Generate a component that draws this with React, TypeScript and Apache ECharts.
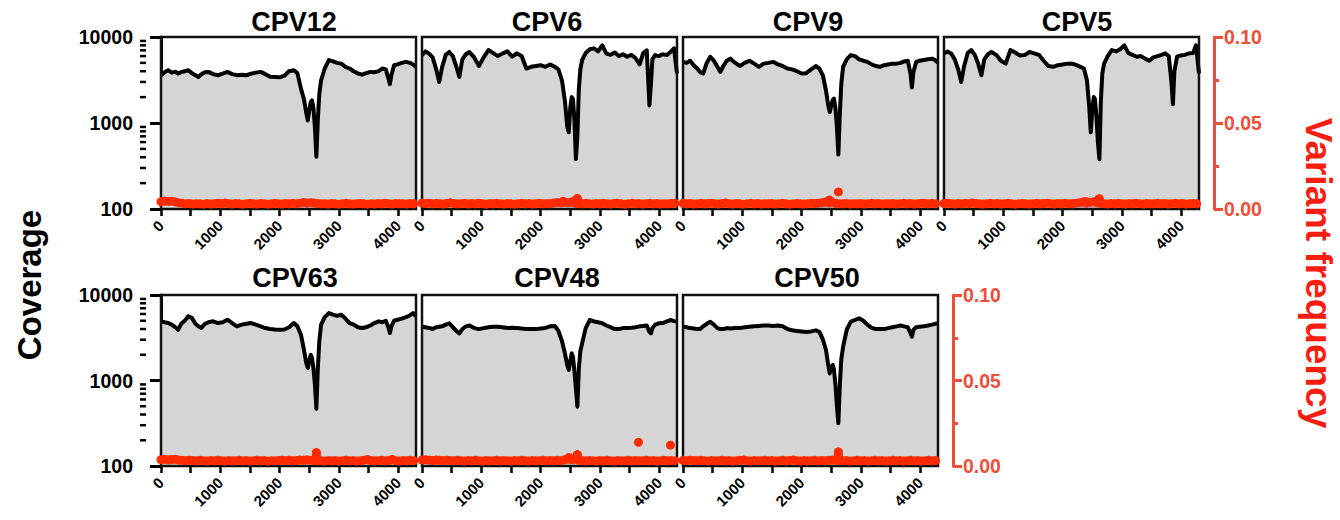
import React, { useEffect, useRef } from "react";
import * as echarts from "echarts";

const POS = [0, 60, 120, 180, 240, 290, 340, 400, 460, 520, 580, 630, 680, 740, 800, 880, 960, 1040, 1120, 1200, 1280, 1360, 1440, 1520, 1600, 1680, 1760, 1840, 1920, 2000, 2080, 2160, 2240, 2300, 2360, 2410, 2450, 2475, 2500, 2525, 2545, 2570, 2595, 2620, 2645, 2670, 2700, 2760, 2830, 2900, 2970, 3040, 3110, 3180, 3250, 3320, 3390, 3460, 3530, 3600, 3670, 3730, 3790, 3835, 3860, 3885, 3930, 3990, 4060, 4130, 4200, 4250, 4300];

const CPV12_COV = [3590, 3900, 4110, 3850, 3950, 3760, 3900, 4000, 4110, 3800, 3600, 3430, 3700, 3900, 3930, 3700, 3590, 3750, 3930, 3700, 3600, 3650, 3590, 3750, 3850, 3930, 3700, 3450, 3430, 3400, 3550, 4000, 4110, 3800, 2510, 1900, 1300, 1070, 1400, 1750, 1830, 1500, 900, 406, 1100, 2200, 3140, 4300, 5380, 5200, 5000, 4900, 4500, 4300, 4000, 3760, 3650, 3800, 3930, 3900, 4000, 4300, 4200, 3300, 2830, 3600, 4700, 4800, 5000, 5140, 5000, 4800, 4500];
const CPV6_COV = [6160, 6800, 6400, 5800, 4200, 3000, 4500, 6200, 6700, 6000, 4500, 3430, 5500, 6300, 6700, 5800, 4600, 5800, 7050, 6500, 6000, 6450, 6800, 5900, 6450, 6000, 4300, 4500, 4600, 4700, 4500, 4800, 4500, 4200, 3140, 1800, 900, 780, 1500, 2000, 1900, 1100, 380, 700, 2500, 4200, 5400, 6500, 7200, 7380, 6800, 8000, 6400, 6200, 6600, 6000, 6300, 5900, 6200, 5700, 4800, 6500, 7000, 1600, 2800, 5500, 6160, 6000, 6300, 6160, 6800, 7400, 3760];
const CPV9_COV = [5140, 5000, 5300, 4700, 4300, 3900, 3760, 5000, 5890, 5300, 4500, 3930, 4600, 5300, 5600, 5000, 4600, 5000, 5300, 4900, 4500, 4900, 5000, 5140, 4800, 4600, 4300, 4200, 4000, 3760, 3800, 4200, 4600, 4300, 3550, 2400, 1600, 1340, 1600, 1850, 1920, 1500, 900, 430, 1300, 2900, 4500, 5500, 6160, 6000, 5500, 5300, 5140, 4800, 4600, 4500, 4700, 4800, 4900, 4900, 5000, 5200, 5300, 3800, 2580, 3900, 5100, 5300, 5400, 5500, 5600, 5400, 5000];
const CPV5_COV = [6450, 6800, 6450, 5500, 4200, 3000, 4600, 6500, 7050, 6200, 4800, 3590, 5500, 6300, 6700, 6200, 5300, 4900, 7050, 6600, 6100, 6160, 6700, 6450, 6200, 5300, 4600, 4500, 4700, 4800, 4900, 4900, 4700, 4500, 4300, 3140, 1500, 780, 1400, 2000, 1900, 1200, 600, 380, 1800, 3800, 4900, 6000, 7050, 6800, 7200, 8000, 6500, 6200, 5900, 6000, 5600, 5300, 5800, 6000, 6200, 6450, 6000, 3000, 1650, 4000, 5900, 6100, 6200, 6450, 6500, 8000, 3760];
const CPV63_COV = [4920, 4800, 4700, 4500, 4200, 3930, 4600, 5000, 5630, 5400, 4600, 4300, 4110, 4600, 4800, 4920, 4700, 4800, 5140, 4700, 4300, 4500, 4600, 4700, 4500, 4300, 4110, 4000, 3950, 3930, 3950, 4200, 4700, 4300, 3430, 2300, 1600, 1400, 1700, 2000, 1850, 1400, 900, 468, 1400, 2900, 4500, 5500, 6150, 5900, 5700, 5880, 5300, 4700, 4500, 4200, 4110, 4200, 4400, 4700, 4920, 4800, 5000, 4200, 3590, 4300, 5000, 5140, 5300, 5500, 5800, 6150, 5630];
const CPV48_COV = [4260, 4200, 4120, 4000, 4200, 4260, 4300, 4500, 4670, 4200, 3800, 3560, 4000, 4300, 4400, 4100, 3990, 4100, 4200, 4260, 4260, 4200, 4120, 4150, 4120, 4050, 4000, 3990, 3990, 4050, 4120, 4300, 4350, 3800, 2900, 2080, 1500, 1330, 1700, 2080, 1900, 1300, 800, 494, 1400, 2200, 2720, 4100, 5100, 4900, 4800, 4670, 4400, 4200, 3990, 4000, 4100, 4120, 4150, 4200, 4300, 4350, 4400, 3700, 3560, 4100, 4500, 4670, 4700, 4900, 5100, 4950, 4900];
const CPV50_COV = [4260, 4200, 4100, 4050, 3990, 4000, 4300, 4600, 4870, 4500, 4100, 3990, 4000, 4100, 4050, 4120, 4100, 4200, 4260, 4300, 4350, 4400, 4400, 4350, 4400, 4300, 4000, 3860, 3800, 3750, 3700, 3750, 3860, 3700, 3000, 2300, 1500, 1210, 1450, 1520, 1350, 900, 500, 316, 900, 1800, 2480, 3900, 4870, 5100, 5340, 5000, 4500, 4120, 4000, 3990, 3990, 4100, 4200, 4300, 4400, 4300, 4200, 3600, 3250, 3900, 4200, 4260, 4300, 4400, 4500, 4600, 4660];

// Positions (nt) at which variant frequencies were read
const VPOS = [0, 60, 120, 180, 240, 300, 360, 420, 480, 540, 600, 660, 720, 780, 840, 900, 960, 1020, 1080, 1140, 1200, 1260, 1320, 1380, 1440, 1500, 1560, 1620, 1680, 1740, 1800, 1860, 1920, 1980, 2040, 2100, 2160, 2220, 2280, 2340, 2400, 2460, 2520, 2580, 2640, 2700, 2760, 2820, 2880, 2940, 3000, 3060, 3120, 3180, 3240, 3300, 3360, 3420, 3480, 3540, 3600, 3660, 3720, 3780, 3840, 3900, 3960, 4020, 4080, 4140, 4200, 4260];

const CPV12_VF = [
  0.0042, 0.0046, 0.0044, 0.0045, 0.0041, 0.0037, 0.0033, 0.0031, 0.0032, 0.0029, 0.0031, 0.0030,
  0.0028, 0.0032, 0.0029, 0.0031, 0.0034, 0.0030, 0.0035, 0.0031, 0.0029, 0.0032, 0.0030, 0.0028,
  0.0031, 0.0033, 0.0030, 0.0029, 0.0032, 0.0031, 0.0028, 0.0030, 0.0033, 0.0031, 0.0029, 0.0032,
  0.0030, 0.0033, 0.0031, 0.0034, 0.0038, 0.0035, 0.0037, 0.0035, 0.0032, 0.0030, 0.0031, 0.0029,
  0.0032, 0.0030, 0.0028, 0.0031, 0.0033, 0.0030, 0.0029, 0.0031, 0.0032, 0.0030, 0.0028, 0.0031,
  0.0029, 0.0032, 0.0030, 0.0034, 0.0031, 0.0029, 0.0032, 0.0030, 0.0031, 0.0029, 0.0032, 0.0030];
const CPV6_VF = [
  0.0035, 0.0032, 0.0034, 0.0030, 0.0033, 0.0031, 0.0029, 0.0033, 0.0036, 0.0032, 0.0030, 0.0031,
  0.0033, 0.0029, 0.0032, 0.0030, 0.0034, 0.0031, 0.0028, 0.0032, 0.0030, 0.0033, 0.0031, 0.0029,
  0.0032, 0.0030, 0.0028, 0.0031, 0.0033, 0.0030, 0.0032, 0.0029, 0.0031, 0.0034, 0.0030, 0.0032,
  0.0031, 0.0035, 0.0038, 0.0036, 0.0039, 0.0037, 0.0041, 0.0034, 0.0032, 0.0030, 0.0033, 0.0031,
  0.0029, 0.0032, 0.0030, 0.0033, 0.0031, 0.0029, 0.0032, 0.0034, 0.0030, 0.0028, 0.0031, 0.0033,
  0.0030, 0.0032, 0.0029, 0.0031, 0.0033, 0.0030, 0.0032, 0.0029, 0.0031, 0.0030, 0.0032, 0.0033];
const CPV9_VF = [
  0.0033, 0.0030, 0.0032, 0.0029, 0.0031, 0.0033, 0.0030, 0.0032, 0.0034, 0.0031, 0.0029, 0.0032,
  0.0035, 0.0031, 0.0029, 0.0032, 0.0030, 0.0028, 0.0031, 0.0033, 0.0030, 0.0032, 0.0029, 0.0031,
  0.0030, 0.0032, 0.0029, 0.0031, 0.0033, 0.0030, 0.0028, 0.0031, 0.0032, 0.0030, 0.0029, 0.0031,
  0.0033, 0.0032, 0.0034, 0.0037, 0.0040, 0.0036, 0.0038, 0.0033, 0.0031, 0.0030, 0.0032, 0.0029,
  0.0031, 0.0030, 0.0032, 0.0029, 0.0031, 0.0033, 0.0030, 0.0032, 0.0029, 0.0031, 0.0030, 0.0032,
  0.0029, 0.0031, 0.0033, 0.0030, 0.0032, 0.0029, 0.0031, 0.0034, 0.0032, 0.0030, 0.0033, 0.0031];
const CPV5_VF = [
  0.0032, 0.0034, 0.0031, 0.0029, 0.0032, 0.0030, 0.0033, 0.0031, 0.0035, 0.0032, 0.0030, 0.0029,
  0.0031, 0.0033, 0.0030, 0.0032, 0.0029, 0.0031, 0.0033, 0.0030, 0.0028, 0.0031, 0.0032, 0.0030,
  0.0029, 0.0031, 0.0033, 0.0030, 0.0032, 0.0034, 0.0031, 0.0029, 0.0032, 0.0030, 0.0033, 0.0031,
  0.0030, 0.0034, 0.0037, 0.0040, 0.0035, 0.0038, 0.0042, 0.0036, 0.0033, 0.0031, 0.0029, 0.0032,
  0.0030, 0.0033, 0.0031, 0.0029, 0.0032, 0.0030, 0.0034, 0.0031, 0.0029, 0.0032, 0.0030, 0.0031,
  0.0033, 0.0030, 0.0032, 0.0029, 0.0031, 0.0033, 0.0030, 0.0032, 0.0029, 0.0031, 0.0032, 0.0030];
const CPV63_VF = [
  0.0037, 0.0039, 0.0036, 0.0038, 0.0040, 0.0035, 0.0033, 0.0031, 0.0034, 0.0032, 0.0030, 0.0033,
  0.0031, 0.0029, 0.0032, 0.0030, 0.0033, 0.0031, 0.0029, 0.0032, 0.0030, 0.0031, 0.0033, 0.0030,
  0.0032, 0.0029, 0.0031, 0.0033, 0.0030, 0.0032, 0.0029, 0.0031, 0.0030, 0.0032, 0.0034, 0.0031,
  0.0033, 0.0030, 0.0032, 0.0035, 0.0033, 0.0036, 0.0034, 0.0032, 0.0030, 0.0031, 0.0029, 0.0032,
  0.0030, 0.0032, 0.0029, 0.0031, 0.0033, 0.0030, 0.0032, 0.0029, 0.0031, 0.0034, 0.0038, 0.0032,
  0.0030, 0.0031, 0.0033, 0.0030, 0.0032, 0.0038, 0.0031, 0.0029, 0.0032, 0.0030, 0.0033, 0.0031];
const CPV48_VF = [
  0.0035, 0.0037, 0.0034, 0.0032, 0.0035, 0.0033, 0.0031, 0.0034, 0.0032, 0.0030, 0.0033, 0.0031,
  0.0029, 0.0032, 0.0030, 0.0033, 0.0031, 0.0029, 0.0032, 0.0030, 0.0031, 0.0033, 0.0030, 0.0032,
  0.0031, 0.0029, 0.0032, 0.0030, 0.0033, 0.0031, 0.0029, 0.0032, 0.0030, 0.0031, 0.0033, 0.0030,
  0.0032, 0.0030, 0.0033, 0.0031, 0.0036, 0.0041, 0.0037, 0.0039, 0.0034, 0.0031, 0.0030, 0.0032,
  0.0031, 0.0029, 0.0032, 0.0030, 0.0033, 0.0031, 0.0029, 0.0032, 0.0030, 0.0031, 0.0033, 0.0030,
  0.0032, 0.0030, 0.0031, 0.0033, 0.0030, 0.0032, 0.0029, 0.0031, 0.0033, 0.0030, 0.0032, 0.0031];
const CPV50_VF = [
  0.0033, 0.0031, 0.0034, 0.0032, 0.0030, 0.0033, 0.0031, 0.0029, 0.0032, 0.0030, 0.0031, 0.0033,
  0.0030, 0.0032, 0.0029, 0.0031, 0.0033, 0.0035, 0.0031, 0.0029, 0.0032, 0.0030, 0.0031, 0.0033,
  0.0030, 0.0032, 0.0029, 0.0031, 0.0033, 0.0030, 0.0032, 0.0035, 0.0031, 0.0029, 0.0032, 0.0030,
  0.0031, 0.0033, 0.0030, 0.0032, 0.0031, 0.0033, 0.0035, 0.0033, 0.0031, 0.0030, 0.0032, 0.0029,
  0.0031, 0.0033, 0.0030, 0.0032, 0.0029, 0.0031, 0.0033, 0.0030, 0.0032, 0.0029, 0.0031, 0.0033,
  0.0030, 0.0032, 0.0029, 0.0031, 0.0033, 0.0030, 0.0032, 0.0029, 0.0031, 0.0033, 0.0030, 0.0032];

// Individual higher-frequency variants [position, frequency]
const CPV12_VX: number[][] = [];
const CPV6_VX = [[2380, 0.0045], [2600, 0.0055], [2620, 0.0061]];
const CPV9_VX = [[2470, 0.0053], [2620, 0.0099]];
const CPV5_VX = [[2390, 0.0044], [2600, 0.0055], [2620, 0.006]];
const CPV63_VX = [[2620, 0.0052], [2620, 0.0066], [2620, 0.0079]];
const CPV48_VX = [[2480, 0.005], [2620, 0.0055], [2620, 0.0067], [3650, 0.0139], [4190, 0.0122]];
const CPV50_VX = [[2620, 0.0055], [2620, 0.007], [2620, 0.0083]];

const NAMES = ["CPV12", "CPV6", "CPV9", "CPV5", "CPV63", "CPV48", "CPV50"];
const COVERAGE = [CPV12_COV, CPV6_COV, CPV9_COV, CPV5_COV, CPV63_COV, CPV48_COV, CPV50_COV];
const VARFREQ = [CPV12_VF, CPV6_VF, CPV9_VF, CPV5_VF, CPV63_VF, CPV48_VF, CPV50_VF];
const VAREXTRA = [CPV12_VX, CPV6_VX, CPV9_VX, CPV5_VX, CPV63_VX, CPV48_VX, CPV50_VX];

const X_TICKS = [0, 500, 1000, 1500, 2000, 2500, 3000, 3500, 4000];
const X_LABELS = [0, 1000, 2000, 3000, 4000];
const LOG_MINOR = [200, 300, 400, 500, 600, 700, 800, 900, 2000, 3000, 4000, 5000, 6000, 7000, 8000, 9000];

// layout
const COL_LEFT = [161, 422, 683, 944];
const ROW_TOP = [37, 295];
const ROW_H = [172, 171];
const PANEL_W = 255;
const Y_OFFSET = 15;
const TITLE_X = [294, 547, 808, 1077, 295, 557, 817];
const TITLE_Y = [22, 278];

const FONT = "'Liberation Sans', Arial, Helvetica, sans-serif";
const AXIS_RED = "#ee4f3a";
const DOT_RED = "#ff2a00";

export default function App() {
  const ref = useRef<HTMLDivElement>(null);
  useEffect(() => {
    if (!ref.current) return;
    const chart = echarts.init(ref.current, null, { renderer: "svg" });
    const grids: any[] = [];
    const xAxes: any[] = [];
    const yAxes: any[] = [];
    const series: any[] = [];
    const graphics: any[] = [];

    NAMES.forEach((name, i) => {
      const row = i < 4 ? 0 : 1;
      const col = i < 4 ? i : i - 4;
      const left = COL_LEFT[col];
      const top = ROW_TOP[row];
      const h = ROW_H[row];
      const lastInRow = i === 3 || i === 6;
      const firstInRow = i === 0 || i === 4;
      grids.push({ left, top, width: PANEL_W, height: h, show: false, outerBoundsMode: "none", containLabel: false });
      xAxes.push({
        type: "value", gridIndex: i, min: 0, max: 4300,
        axisLine: { show: false },
        axisTick: { show: true, length: 7, customValues: X_TICKS, lineStyle: { color: "#000", width: 2.5 } },
        axisLabel: {
          customValues: X_LABELS, rotate: 45, margin: 14, fontSize: 15, fontWeight: "bold",
          color: "#000", fontFamily: FONT, formatter: (v: number) => String(v),
        },
        splitLine: { show: false },
      });
      yAxes.push({
        type: "log", logBase: 10, gridIndex: i, min: 100, max: 10000, position: "left", offset: Y_OFFSET,
        show: firstInRow,
        axisLine: { show: true, lineStyle: { color: "#000", width: 3 } },
        axisTick: { show: true, length: 11, lineStyle: { color: "#000", width: 3 } },
        axisLabel: { fontSize: 19.5, fontWeight: "bold", color: "#000", fontFamily: FONT, margin: 13, formatter: (v: number) => String(v) },
        splitLine: { show: false },
      });
      yAxes.push({
        type: "value", gridIndex: i, min: 0, max: 0.1, interval: 0.05, position: "right", offset: Y_OFFSET,
        show: lastInRow,
        axisLine: { show: true, lineStyle: { color: AXIS_RED, width: 3 } },
        axisTick: { show: true, length: 9, lineStyle: { color: AXIS_RED, width: 3 } },
        minorTick: { show: true, splitNumber: 2, length: 5, lineStyle: { color: AXIS_RED, width: 3 } },
        axisLabel: { fontSize: 19.5, fontWeight: "bold", color: AXIS_RED, fontFamily: FONT, margin: 10, formatter: (v: number) => v.toFixed(2) },
        splitLine: { show: false },
      });
      series.push({
        type: "line", xAxisIndex: i, yAxisIndex: 2 * i,
        data: POS.map((p, k) => [p, COVERAGE[i][k]]),
        symbol: "none", showSymbol: false,
        lineStyle: { color: "#000", width: 4, join: "round" },
        areaStyle: { color: "#d5d5d5", opacity: 1, origin: "start" },
        z: 2,
      });
      series.push({
        type: "scatter", xAxisIndex: i, yAxisIndex: 2 * i + 1,
        data: VPOS.map((p, k) => [p, VARFREQ[i][k]]).concat(VAREXTRA[i]),
        symbolSize: 9,
        itemStyle: { color: DOT_RED, opacity: 1 },
        z: 4,
      });
      if (firstInRow) {
        // minor log ticks, placed through the log axis scale
        series.push({
          type: "custom", xAxisIndex: i, yAxisIndex: 2 * i, silent: true, clip: false, z: 5,
          data: LOG_MINOR.map((v) => [0, v]),
          renderItem: (_p: any, api: any) => {
            const pt = api.coord([0, api.value(1)]);
            const ax = pt[0] - Y_OFFSET;
            return {
              type: "line",
              shape: { x1: ax, y1: pt[1], x2: ax - 6, y2: pt[1] },
              style: { stroke: "#000", lineWidth: 2.5 },
            };
          },
        });
      }
      graphics.push({
        type: "rect", z: 3, silent: true,
        shape: { x: left, y: top, width: PANEL_W, height: h },
        style: { fill: "none", stroke: "#111", lineWidth: 2.5 },
      });
      graphics.push({
        type: "text", z: 100, silent: true, x: TITLE_X[i], y: TITLE_Y[row],
        style: { text: name, fill: "#000", fontSize: 27, fontWeight: "bold", fontFamily: FONT, align: "center", verticalAlign: "middle" },
      });
    });

    graphics.push({
      type: "text", z: 100, silent: true, x: 29, y: 285, rotation: Math.PI / 2,
      style: { text: "Coverage", fill: "#000", fontSize: 33, fontWeight: "bold", fontFamily: FONT, align: "center", verticalAlign: "middle" },
    });
    graphics.push({
      type: "text", z: 100, silent: true, x: 1318, y: 273, rotation: -Math.PI / 2,
      style: { text: "Variant frequency", fill: "#fb1e10", fontSize: 37, fontWeight: "bold", fontFamily: FONT, align: "center", verticalAlign: "middle" },
    });

    chart.setOption({
      animation: false,
      backgroundColor: "#fff",
      grid: grids,
      xAxis: xAxes,
      yAxis: yAxes,
      series,
      graphic: graphics,
    });
    return () => chart.dispose();
  }, []);
  return <div ref={ref} style={{ position: "absolute", left: 0, top: 0, width: 1340, height: 520 }} />;
}
